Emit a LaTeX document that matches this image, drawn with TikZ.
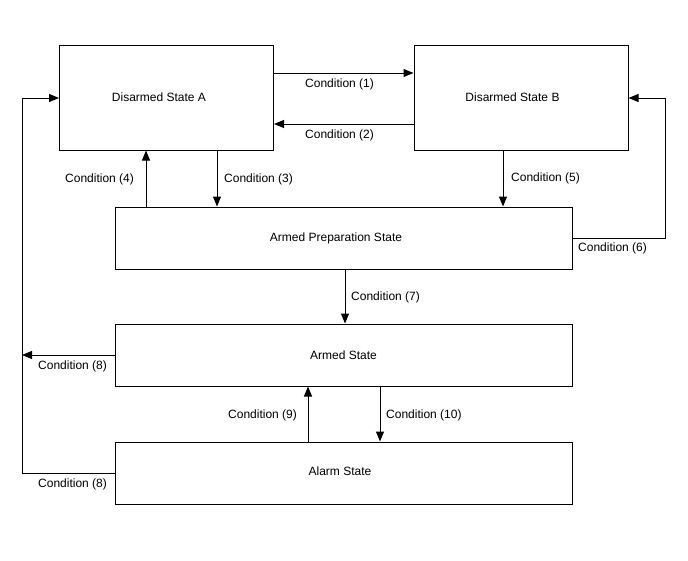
\documentclass[tikz,border=0pt]{standalone}
\usepackage{fontspec}
\setmainfont{Liberation Sans}
\usetikzlibrary{arrows.meta}
\begin{document}
\begin{tikzpicture}[x=1pt,y=-1pt,
  every node/.style={font=\fontsize{12}{14}\selectfont},
  statebox/.style={draw,line width=1pt,inner sep=0pt},
  conn/.style={draw,line width=1pt},
  arr/.style={conn,-{Triangle[length=10pt,width=8pt]}},
  lbl/.style={anchor=west,inner sep=0pt}]
\path[use as bounding box] (0,0) rectangle (688,560);
\node[statebox,minimum width=214pt,minimum height=105pt] (A) at (166.5,97.5) {Disarmed State A\hspace*{15pt}\raisebox{2pt}{}};
\node[statebox,minimum width=214pt,minimum height=105pt] (B) at (521,97.5) {Disarmed State B\hspace*{17pt}};
\node[statebox,minimum width=457pt,minimum height=62pt] (P) at (343.5,238) {Armed Preparation State\hspace*{15pt}};
\node[statebox,minimum width=457pt,minimum height=62pt] (R) at (343.5,355) {Armed State};
\node[statebox,minimum width=457pt,minimum height=62pt] (L) at (343.5,473) {\raisebox{3pt}{Alarm State}\hspace*{7pt}};
\coordinate (c6) at (665,98);
\coordinate (c8) at (22,98);
% arrows
\draw[arr] (A.east |- 0,73) -- (B.west |- 0,73);
\draw[arr] (B.west |- 0,124) -- (A.east |- 0,124);
\draw[arr] (P.north -| 146,0) -- (A.south -| 146,0);
\draw[arr] (A.south -| 217,0) -- (P.north -| 217,0);
\draw[arr] (B.south -| 503,0) -- (P.north -| 503,0);
\draw[arr] (P.east) -| (c6) -- (B.east |- c6);
\draw[arr] (P.south -| 345,0) -- (R.north -| 345,0);
\draw[arr] (R.west) -- (R.west -| c8);
\draw[arr] (L.west) -| (c8) -- (A.west |- c8);
\draw[arr] (L.north -| 308,0) -- (R.south -| 308,0);
\draw[arr] (R.south -| 380,0) -- (L.north -| 380,0);
% labels
\node[lbl] (l1) at (305,84) {Condition (1)};
\node[lbl] (l2) at (305,135) {Condition (2)};
\node[lbl] (l4) at (65,179) {Condition (4)};
\node[lbl] (l3) at (224,179) {Condition (3)};
\node[lbl] (l5) at (511,178) {Condition (5)};
\node[lbl] (l6) at (578,248) {Condition (6)};
\node[lbl] (l7) at (351,297) {Condition (7)};
\node[lbl] (l8a) at (38,366) {Condition (8)};
\node[lbl] (l9) at (228,415) {Condition (9)};
\node[lbl] (l10) at (386,415) {Condition (10)};
\node[lbl] (l8b) at (38,484) {Condition (8)};
\end{tikzpicture}
\end{document}
